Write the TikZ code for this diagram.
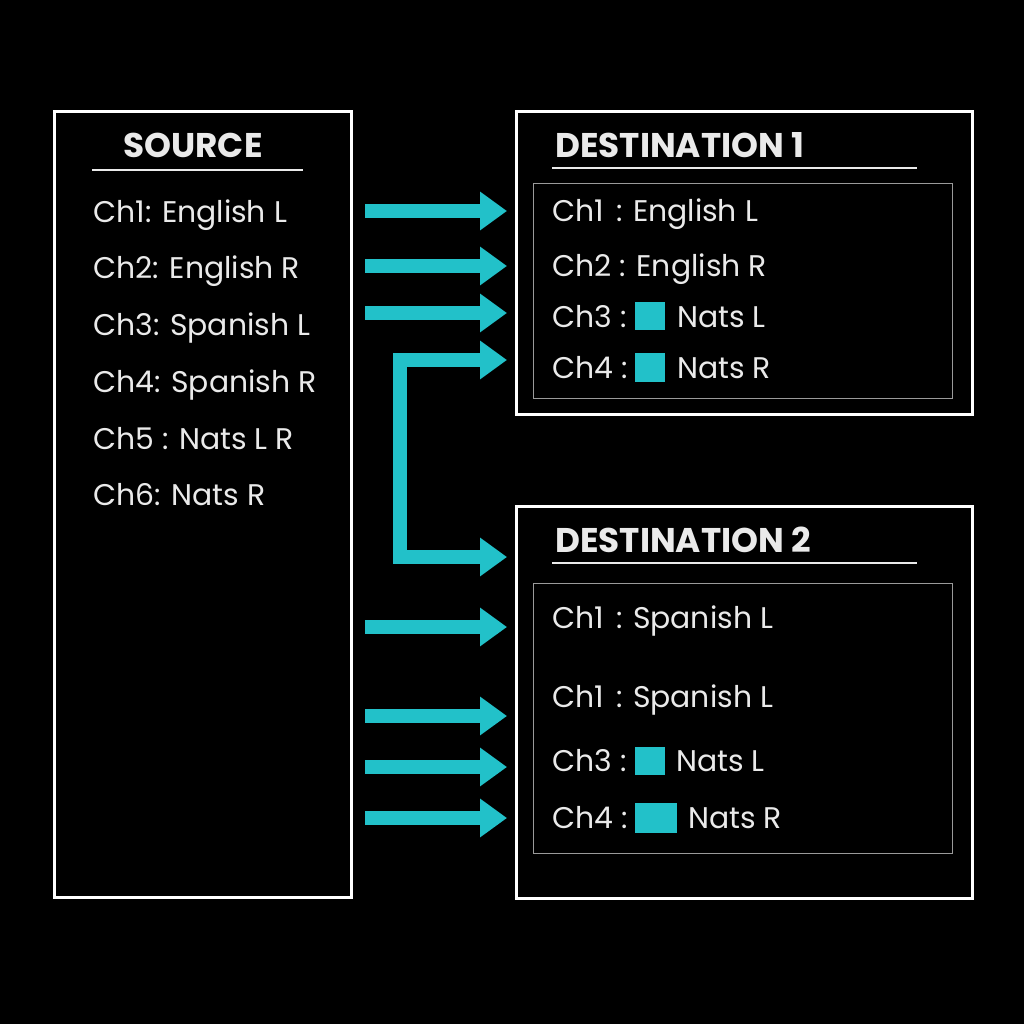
\documentclass[tikz,border=0pt]{standalone}
\usepackage{fontspec}
\setmainfont{Poppins}
\usetikzlibrary{arrows.meta}
\definecolor{fg}{HTML}{EAEAEA}
\definecolor{tl}{HTML}{22C1C9}
\definecolor{innerc}{HTML}{9A9A9A}
\tikzset{
  lbl/.style={anchor=base west, text=fg, inner sep=0pt, font=\fontsize{17}{20}\selectfont},
  ttl/.style={anchor=base west, text=fg, inner sep=0pt, font=\fontsize{19.5}{22}\selectfont\bfseries},
  outerbox/.style={draw=white, line width=0.06cm},
  innerbox/.style={draw=innerc, line width=0.025cm},
  rulel/.style={draw=fg, line width=0.035cm},
  sq/.style={fill=tl, draw=none, inner sep=0pt},
  conn/.style={draw=tl, line width=0.29cm, line join=miter, -{Triangle[length=0.54cm,width=0.74cm]}},
}
\begin{document}
\begin{tikzpicture}[x=0.02cm,y=-0.02cm]
\useasboundingbox[fill=black] (0,0) rectangle (1024,1024);
% Source
\node[outerbox, minimum width=297*0.02cm, minimum height=786*0.02cm, anchor=north west] (src) at (53,110) {};
\node[ttl, anchor=base] (srct) at (193,157) {SOURCE};
\draw[rulel] (92,170) -- (303,170);
\node[lbl] (s1) at (93,222) {Ch1: English L};
\node[lbl] (s2) at (93,278) {Ch2: English R};
\node[lbl] (s3) at (93,335) {Ch3: Spanish L};
\node[lbl] (s4) at (93,392) {Ch4: Spanish R};
\node[lbl] (s5) at (93,449) {Ch5 : Nats L R};
\node[lbl] (s6) at (93,505) {Ch6: Nats R};
% Destination 1
\node[outerbox, minimum width=456*0.02cm, minimum height=303*0.02cm, anchor=north west] (d1) at (515,110) {};
\node[innerbox, minimum width=419*0.02cm, minimum height=215*0.02cm, anchor=north west] (d1i) at (533,183) {};
\node[ttl] (d1t) at (555,157) {DESTINATION 1};
\draw[rulel] (552,168) -- (917,168);
\node[lbl] (d1a) at (552,221) {Ch1\hspace{0.4em}: English L};
\node[lbl] (d1b) at (552,276) {Ch2 : English R};
\node[lbl] (d1c) at (552,327) {Ch3 :};
\node[sq, minimum width=30*0.02cm, minimum height=28*0.02cm, anchor=north west] (d1cs) at (635,302) {};
\node[lbl] (d1cn) at (677,327) {Nats L};
\node[lbl] (d1d) at (552,378) {Ch4 :};
\node[sq, minimum width=30*0.02cm, minimum height=29*0.02cm, anchor=north west] (d1ds) at (635,353) {};
\node[lbl] (d1dn) at (677,378) {Nats R};
% Destination 2
\node[outerbox, minimum width=456*0.02cm, minimum height=392*0.02cm, anchor=north west] (d2) at (515,505) {};
\node[innerbox, minimum width=419*0.02cm, minimum height=270*0.02cm, anchor=north west] (d2i) at (533,583) {};
\node[ttl] (d2t) at (555,552) {DESTINATION 2};
\draw[rulel] (552,563) -- (917,563);
\node[lbl] (d2a) at (552,628) {Ch1\hspace{0.4em}: Spanish L};
\node[lbl] (d2b) at (552,707) {Ch1\hspace{0.4em}: Spanish L};
\node[lbl] (d2c) at (552,771) {Ch3 :};
\node[sq, minimum width=30*0.02cm, minimum height=28*0.02cm, anchor=north west] (d2cs) at (635,747) {};
\node[lbl] (d2cn) at (676,771) {Nats L};
\node[lbl] (d2d) at (552,828) {Ch4 :};
\node[sq, minimum width=42*0.02cm, minimum height=30*0.02cm, anchor=north west] (d2ds) at (635,803) {};
\node[lbl] (d2dn) at (688,828) {Nats R};
% arrow coordinates
\coordinate (a1s) at (365,211); \coordinate (a1e) at (507,211);
\coordinate (a2s) at (365,266); \coordinate (a2e) at (507,266);
\coordinate (a3s) at (365,313); \coordinate (a3e) at (507,313);
\coordinate (bt) at (507,360); \coordinate (bc1) at (400,360);
\coordinate (bc2) at (400,557); \coordinate (bb) at (507,557);
\coordinate (a5s) at (365,627); \coordinate (a5e) at (507,627);
\coordinate (a6s) at (365,716); \coordinate (a6e) at (507,716);
\coordinate (a7s) at (365,767); \coordinate (a7e) at (507,767);
\coordinate (a8s) at (365,818); \coordinate (a8e) at (507,818);
\draw[conn] (a1s) -- (a1e);
\draw[conn] (a2s) -- (a2e);
\draw[conn] (a3s) -- (a3e);
\draw[conn, {Triangle[length=0.54cm,width=0.74cm]}-{Triangle[length=0.54cm,width=0.74cm]}] (bt) -- (bc1) -- (bc2) -- (bb);
\draw[conn] (a5s) -- (a5e);
\draw[conn] (a6s) -- (a6e);
\draw[conn] (a7s) -- (a7e);
\draw[conn] (a8s) -- (a8e);
\end{tikzpicture}
\end{document}
